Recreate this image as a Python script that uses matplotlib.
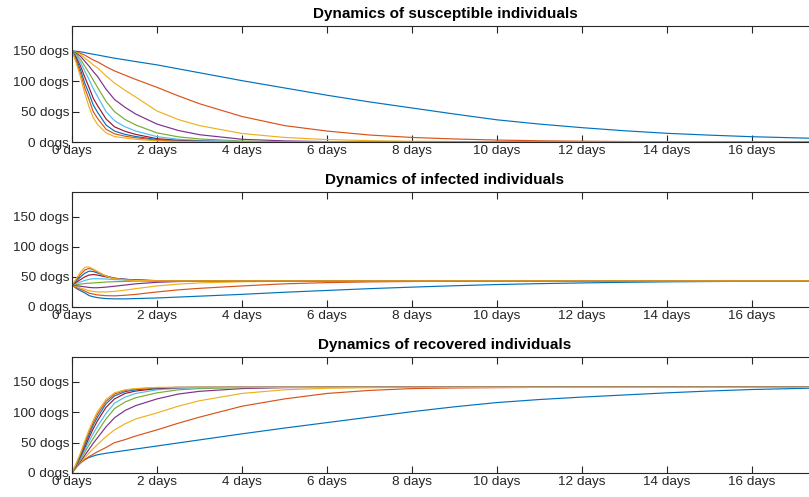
import matplotlib
matplotlib.use("Agg")
import matplotlib.pyplot as plt
from matplotlib.ticker import FuncFormatter

plt.rcParams["font.family"] = ["Liberation Sans", "DejaVu Sans"]

# time samples (days)
t = [0, 0.1, 0.2, 0.3, 0.4, 0.5, 0.6, 0.8, 1, 1.25, 1.5, 2, 2.5, 3, 4, 5, 6, 7, 8,
     9, 10, 11, 12, 13, 14, 15, 16, 17.6]

# susceptible, one row per run (slowest first)
S = [
    [150, 149.2, 148.5, 147.2, 145.8, 144.5, 143.3, 140.6, 138, 135.3, 132.4, 127, 120.5, 114, 101, 89, 77, 66, 56,
     46, 36.5, 29.5, 23.6, 18.5, 14.3, 11.3, 8.7, 5.8],
    [150, 148, 146, 143, 139, 135, 132, 124, 117, 110, 103, 90, 76, 63, 42, 27, 18, 11.5, 7.5,
     5, 3.2, 2, 1.3, 0.8, 0.5, 0.3, 0.2, 0.1],
    [150, 147.5, 144, 138, 133, 127, 122, 109, 97, 85, 74, 51, 37, 27, 14, 7.5, 4, 2.2, 1.2,
     0.7, 0.35, 0.2, 0.1, 0, 0, 0, 0, 0],
    [150, 146, 141, 133, 125, 116, 108, 87, 70, 57, 46, 29.5, 19, 12, 4.5, 1.8, 0.7, 0.3, 0.1,
     0, 0, 0, 0, 0, 0, 0, 0, 0],
    [150, 144, 136, 125, 114, 102, 90, 67, 50, 37, 28, 15, 8.5, 5, 1.6, 0.5, 0.15, 0, 0,
     0, 0, 0, 0, 0, 0, 0, 0, 0],
    [150, 142, 131, 117, 103, 88, 75, 50, 35, 25, 18, 8.8, 4.5, 2.4, 0.7, 0.2, 0, 0, 0,
     0, 0, 0, 0, 0, 0, 0, 0, 0],
    [150, 139, 125, 107, 90, 72, 60, 38, 25, 17.5, 12.5, 5.5, 2.6, 1.3, 0.3, 0, 0, 0, 0,
     0, 0, 0, 0, 0, 0, 0, 0, 0],
    [150, 136, 119, 97, 80, 61, 49, 28, 18, 12.5, 9, 4, 1.8, 0.9, 0.2, 0, 0, 0, 0,
     0, 0, 0, 0, 0, 0, 0, 0, 0],
    [150, 133, 113, 89, 70, 50, 39, 21, 13.5, 9.5, 7, 3, 1.3, 0.6, 0.1, 0, 0, 0, 0,
     0, 0, 0, 0, 0, 0, 0, 0, 0],
    [150, 130, 107, 80, 58, 40, 29, 15, 9, 6.5, 4.5, 1.8, 0.8, 0.4, 0.1, 0, 0, 0, 0,
     0, 0, 0, 0, 0, 0, 0, 0, 0],
]

# infected
I = [
    [36.5, 31, 27, 23.5, 19, 17, 15.5, 14, 13.5, 13.5, 14, 15, 16.5, 18, 21, 24.5, 27.5, 30.5, 33,
     35.3, 37.3, 38.8, 40, 41, 41.8, 42.3, 42.7, 43],
    [36.5, 32.5, 29.5, 26.5, 23, 21.5, 20, 18.8, 18.5, 19.5, 21, 25, 28.5, 31, 35, 38.5, 40.5, 41.7, 42.4,
     42.8, 43, 43.1, 43.2, 43.3, 43.3, 43.3, 43.3, 43.3],
    [36.5, 34, 31.5, 29.5, 27, 26, 25, 25, 26, 28, 30.5, 35, 38, 40, 42, 42.8, 43.1, 43.2, 43.3,
     43.3, 43.3, 43.3, 43.3, 43.3, 43.3, 43.3, 43.3, 43.3],
    [36.5, 35.5, 34.5, 33.5, 32.5, 32, 32, 33, 34.5, 36.5, 38.5, 41, 42.3, 43, 43.3, 43.3, 43.3, 43.3, 43.3,
     43.3, 43.3, 43.3, 43.3, 43.3, 43.3, 43.3, 43.3, 43.3],
    [36.5, 37, 38, 39, 39.5, 40, 40.5, 41.5, 42, 42.5, 43, 43.2, 43.3, 43.3, 43.3, 43.3, 43.3, 43.3, 43.3,
     43.3, 43.3, 43.3, 43.3, 43.3, 43.3, 43.3, 43.3, 43.3],
    [36.5, 39, 41.5, 44, 46, 47, 47, 46.5, 45.5, 44.8, 44.3, 43.6, 43.4, 43.3, 43.3, 43.3, 43.3, 43.3, 43.3,
     43.3, 43.3, 43.3, 43.3, 43.3, 43.3, 43.3, 43.3, 43.3],
    [36.5, 41, 45.5, 50, 53, 54, 53, 50, 47.5, 46, 45, 43.8, 43.4, 43.3, 43.3, 43.3, 43.3, 43.3, 43.3,
     43.3, 43.3, 43.3, 43.3, 43.3, 43.3, 43.3, 43.3, 43.3],
    [36.5, 43, 50, 56, 59.5, 59, 56.5, 51.5, 48, 46, 44.8, 43.6, 43.3, 43.3, 43.3, 43.3, 43.3, 43.3, 43.3,
     43.3, 43.3, 43.3, 43.3, 43.3, 43.3, 43.3, 43.3, 43.3],
    [36.5, 45, 54, 61.5, 64, 62, 58, 51.5, 47.5, 45.3, 44.3, 43.5, 43.3, 43.3, 43.3, 43.3, 43.3, 43.3, 43.3,
     43.3, 43.3, 43.3, 43.3, 43.3, 43.3, 43.3, 43.3, 43.3],
    [36.5, 47, 58, 66, 66.5, 63, 59, 51, 47, 45, 44, 43.4, 43.3, 43.3, 43.3, 43.3, 43.3, 43.3, 43.3,
     43.3, 43.3, 43.3, 43.3, 43.3, 43.3, 43.3, 43.3, 43.3],
]

# recovered
R = [
    [0, 10, 17, 22, 25.5, 28, 30, 32.5, 34.5, 37, 39.5, 44.5, 49.5, 54.5, 64.5, 74, 83, 92, 101,
     109, 116, 121, 125, 128.5, 132, 135, 137.5, 140],
    [0, 9, 16, 22, 27, 31, 35, 42, 50, 55, 61, 71, 82, 92, 110, 122, 131, 136, 139,
     140, 140.5, 141, 141, 141, 141, 141, 141, 141],
    [0, 9, 17, 25, 33, 40, 47, 60, 71, 81, 89, 99, 110, 119, 131, 137, 139.5, 140.5, 141,
     141, 141, 141, 141, 141, 141, 141, 141, 141],
    [0, 10, 19, 29, 39, 49, 58, 76, 91, 103, 111, 122, 130, 134.5, 139, 140.5, 141, 141, 141,
     141, 141, 141, 141, 141, 141, 141, 141, 141],
    [0, 11, 22, 34, 46, 57, 68, 89, 106, 117, 124, 132, 137, 139, 140.5, 141, 141, 141, 141,
     141, 141, 141, 141, 141, 141, 141, 141, 141],
    [0, 12, 25, 38, 52, 65, 77, 98, 115, 125, 131, 137, 139.5, 140.5, 141, 141, 141, 141, 141,
     141, 141, 141, 141, 141, 141, 141, 141, 141],
    [0, 13, 27, 42, 58, 73, 86, 108, 122, 131, 135, 139, 140.5, 141, 141, 141, 141, 141, 141,
     141, 141, 141, 141, 141, 141, 141, 141, 141],
    [0, 14, 29, 46, 63, 79, 92, 114, 127, 134, 137, 140, 141, 141, 141, 141, 141, 141, 141,
     141, 141, 141, 141, 141, 141, 141, 141, 141],
    [0, 15, 31, 50, 67, 83, 97, 118, 130, 136, 138.5, 140.5, 141, 141, 141, 141, 141, 141, 141,
     141, 141, 141, 141, 141, 141, 141, 141, 141],
    [0, 16, 33, 53, 71, 87, 101, 121, 132, 137, 139, 141, 141, 141, 141, 141, 141, 141, 141,
     141, 141, 141, 141, 141, 141, 141, 141, 141],
]

titles = ["Dynamics of susceptible individuals",
          "Dynamics of infected individuals",
          "Dynamics of recovered individuals"]
x_ticks = [0, 2, 4, 6, 8, 10, 12, 14, 16]
y_ticks = [0, 50, 100, 150]

colors = ["#0072BD", "#D95319", "#EDB120", "#7E2F8E", "#77AC30", "#4DBEEE", "#A2142F"]
axcol = "#262626"

fig = plt.figure(figsize=(8.09, 4.97), dpi=100)

# axes boxes in pixels: (top, bottom); they run off the right edge like the original
boxes = [(26, 142), (192, 307), (357, 473)]
left_px, right_px = 72, 818

for (top, bot), data, title in zip(boxes, [S, I, R], titles):
    ax = fig.add_axes([left_px / 809, 1 - bot / 497, (right_px - left_px) / 809, (bot - top) / 497])
    for k, y in enumerate(data):
        ax.plot(t, y, color=colors[k % len(colors)], lw=0.85)
    ax.set_xlim(0, 17.55)
    ax.set_ylim(0, 191)
    ax.set_xticks(x_ticks)
    ax.set_yticks(y_ticks)
    ax.xaxis.set_major_formatter(FuncFormatter(lambda v, p: f"{v:g} days"))
    ax.yaxis.set_major_formatter(FuncFormatter(lambda v, p: f"{v:g} dogs"))
    ax.tick_params(direction="in", length=5, width=0.8, colors=axcol,
                   labelcolor="#262626", labelsize=9.7, top=True, right=True, pad=2)
    for sp in ax.spines.values():
        sp.set_color(axcol)
        sp.set_linewidth(0.8)
    fig.text(445 / 809, 1 - (top - 5) / 497, title, ha="center", va="bottom",
             fontsize=11, fontweight="bold", color="black")

fig.savefig("out.png", dpi=100)
